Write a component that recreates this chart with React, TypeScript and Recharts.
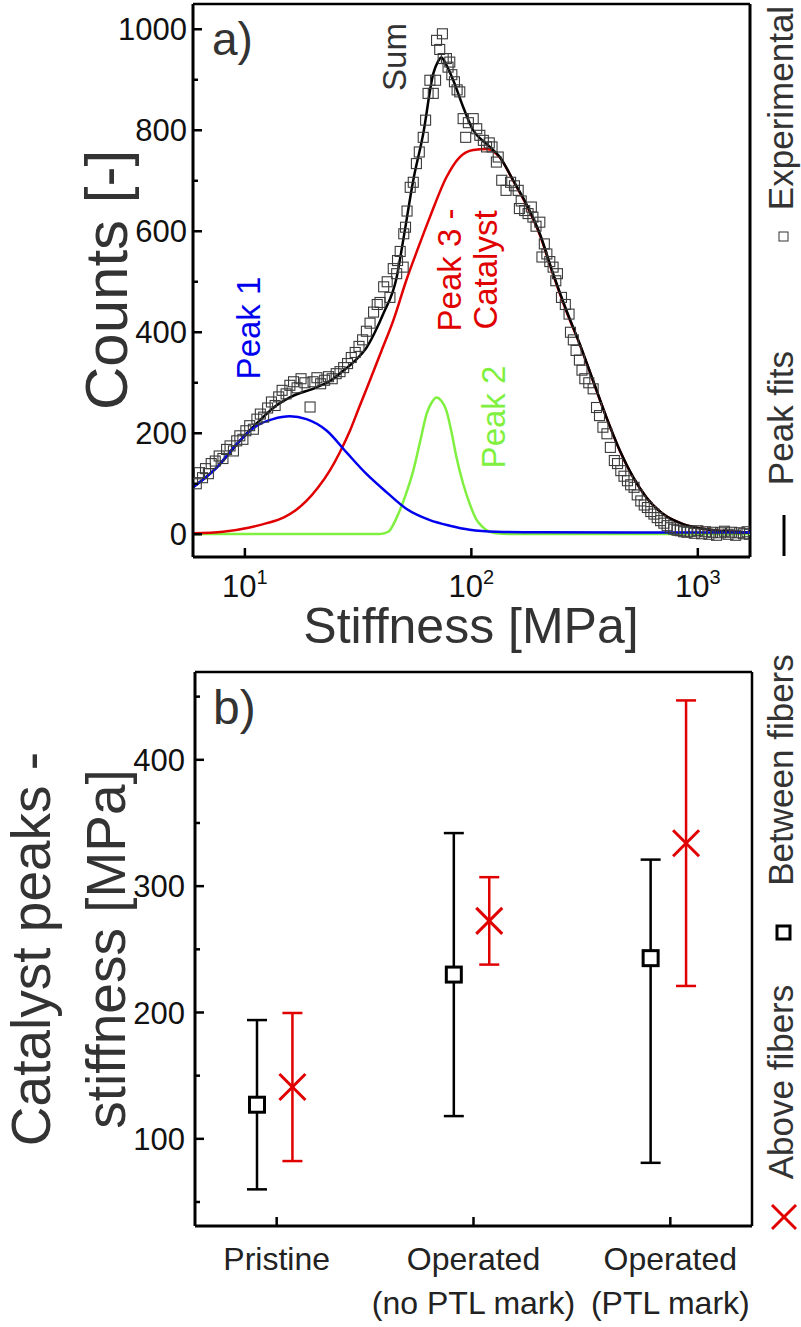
import React from 'react';
import { ComposedChart, Line, Scatter, XAxis, YAxis, ReferenceLine, ErrorBar } from 'recharts';

const FONT = '"Liberation Sans", Arial, Helvetica, sans-serif';

// ---------- Panel a) data ----------
const experimentalPts: [number, number][] = [
  [6.1, 100], [6.3, 122], [6.5, 112], [6.7, 130], [6.9, 120], [7.1, 140], [7.4, 145], [7.7, 155], [8.0, 150],
  [8.3, 168], [8.6, 175], [8.9, 165], [9.2, 185], [9.5, 195], [9.8, 188], [10.1, 205], [10.5, 215], [10.9, 208],
  [11.3, 228], [11.7, 238], [12.1, 232], [12.6, 250], [13.1, 262], [13.6, 255], [14.1, 272], [14.6, 285],
  [15.2, 278], [15.8, 295], [16.4, 302], [17.0, 290], [17.7, 308], [18.4, 300], [19.4, 252], [20.0, 302],
  [20.8, 310], [21.6, 298], [22.5, 305], [23.4, 312], [24.3, 308], [25.3, 318], [26.3, 322], [27.3, 330],
  [28.4, 338], [29.5, 350], [30.7, 360], [31.9, 372], [33.1, 385], [34.4, 402], [35.7, 418], [37.0, 440],
  [38.4, 455], [39.5, 459], [41.0, 490], [42.5, 500], [43.7, 469], [45.2, 526], [46.8, 516], [47.2, 542],
  [48.5, 560], [50.0, 529], [50.3, 595], [51.2, 608], [52.0, 640], [53.7, 687], [55.4, 697], [57.2, 734],
  [58.9, 757], [61.3, 786], [62.8, 820], [64.4, 873], [65.6, 899], [67.9, 873], [69.5, 899], [70.2, 978],
  [72.5, 960], [74.5, 991], [75.1, 942], [77.6, 942], [78.9, 925], [80.3, 935], [82.0, 910], [84.2, 896],
  [86.5, 880], [88.9, 876], [92.0, 823], [94.4, 786], [97.0, 815], [101.9, 823], [105.6, 803], [109, 790],
  [113, 780], [116.7, 767], [120, 775], [123.4, 767], [129, 737], [131.4, 747], [136.2, 701], [142.3, 681],
  [149, 697], [155, 690], [161, 681], [163, 645], [166, 660], [172, 641], [178, 635], [184, 648], [187, 628],
  [193, 610], [200.6, 618], [205, 549], [210, 575], [215.5, 555], [222, 540], [229.6, 529], [236, 502],
  [240, 516], [250, 469], [260, 455], [270, 436], [274, 400], [282, 385], [290, 364], [300, 345], [308, 325],
  [317, 308], [330, 300], [345, 288], [357, 251], [368, 235], [381, 212], [397, 199], [411, 172], [428, 146],
  [442, 140], [457, 126], [472, 115], [489, 106], [505, 98], [523, 93], [540, 78], [560, 66], [580, 58],
  [599, 53], [620, 45], [640, 40], [662, 33], [685, 27], [708, 22], [732, 17], [757, 13], [783, 10], [810, 8],
  [837, 7], [866, 5], [896, 4], [930, 6], [965, 2], [1000, 7], [1040, 1], [1080, 5], [1120, 0], [1160, 4],
  [1210, -2], [1260, 3], [1310, 6], [1360, 0], [1410, 4], [1470, -2], [1530, 3], [1590, 1], [1650, 5], [1690, 0],
];

const sumPts: [number, number][] = [
  [5.9, 93], [7.5, 132], [9.5, 185], [11.6, 225], [13.5, 252], [15.8, 271], [20.7, 291], [24, 305], [27.2, 324],
  [30.5, 343], [34.5, 370], [37.5, 400], [40.8, 436], [46.8, 509], [50, 582], [55.4, 701], [61.3, 793],
  [67.9, 912], [71, 935], [73.8, 944], [77, 932], [83.2, 899], [92, 846], [101.9, 800], [116.7, 773],
  [133.6, 747], [153, 701], [175, 654], [200.6, 595], [229.6, 516], [263, 443], [301, 377], [345, 304],
  [395, 231.5], [453, 165.5], [519, 112.6], [593, 73], [703, 40], [861, 20], [1092, 10], [1400, 5], [1700, 3.6],
];

const peak3Pts: [number, number][] = [
  [5.9, 2], [8, 5], [10.5, 13.5], [12.5, 22], [14.8, 33], [16.7, 47], [18.7, 66], [21, 92], [23.7, 126],
  [26.3, 163], [29.1, 205], [32, 252], [35.6, 304], [40, 362], [45.2, 423], [51.8, 505], [58, 565],
  [65.6, 628], [77.6, 707], [88.9, 747], [101.9, 761], [116.7, 763], [133.6, 746], [153, 700], [175, 652],
  [200.6, 593], [229.6, 514], [263, 441], [301, 376], [345, 303], [395, 231], [453, 165], [519, 112],
  [593, 73], [703, 40], [861, 20], [1092, 10], [1400, 5], [1700, 3],
];

const peak1Pts: [number, number][] = [
  [5.9, 93], [7.5, 132], [9.2, 179], [11.3, 215], [13.3, 228], [15.8, 233.5], [18.7, 228], [23, 205],
  [28.1, 162], [34.5, 119], [42.3, 83], [51.8, 50], [65.6, 28], [80.3, 17], [98.4, 9], [129, 5], [200, 3.8],
  [500, 3.6], [1700, 3.6],
];

const peak2Pts: [number, number][] = [
  [5.9, 0.5], [39.5, 0.5], [43, 5], [46.8, 33], [51, 75], [55.4, 126], [59.5, 185], [63.4, 238], [67, 262],
  [70.2, 271], [73.5, 265], [77.6, 245], [81.5, 205], [86, 152], [92, 100], [98.4, 60], [105, 30],
  [112.7, 13.5], [128, 2], [150, 0.5], [1700, 0.5],
];

const countTicks = [0, 100, 200, 300, 400, 500, 600, 700, 800, 900, 1000];
const stiffLogTicks = [10, 100, 1000];

// ---------- Panel b) data ----------
const categories = ['Pristine', 'Operated\n(no PTL mark)', 'Operated\n(PTL mark)'];
const betweenValues = [127, 230, 243];
const betweenLowErrors = [67, 112, 162];
const betweenHighErrors = [67, 112, 78];
const aboveValues = [141, 272.5, 334];
const aboveErrors = [58.6, 34.6, 113];
const stiffTicks = [50, 100, 150, 200, 250, 300, 350, 400, 450];

const toXY = (pts: [number, number][]) => pts.map(([x, y]) => ({ x, y }));
const expData = toXY(experimentalPts);
const sumData = toXY(sumPts);
const p1Data = toXY(peak1Pts);
const p2Data = toXY(peak2Pts);
const p3Data = toXY(peak3Pts);
const betweenData = betweenValues.map((y, i) => ({
  x: i + 1 - 0.1,
  y,
  err: [betweenLowErrors[i], betweenHighErrors[i]],
}));
const aboveData = aboveValues.map((y, i) => ({ x: i + 1 + 0.08, y, err: aboveErrors[i] }));

const RED = '#e00000';
const BLUE = '#0000ee';
const GREEN = '#80f040';

const OpenSquare = (p: any) => (
  <rect x={p.cx - 5} y={p.cy - 5} width={10} height={10} fill="none" stroke="#3a3a3a" strokeWidth={1.1} />
);
const BoldSquare = (p: any) => (
  <rect x={p.cx - 7.5} y={p.cy - 7.5} width={15} height={15} fill="#fff" stroke="#000" strokeWidth={3} />
);
const RedCross = (p: any) => (
  <g stroke={RED} strokeWidth={3}>
    <line x1={p.cx - 13} y1={p.cy - 13} x2={p.cx + 13} y2={p.cy + 13} />
    <line x1={p.cx - 13} y1={p.cy + 13} x2={p.cx + 13} y2={p.cy - 13} />
  </g>
);

const CountTick = (p: any) => {
  const v = p.payload.value;
  const major = v % 200 === 0;
  const ax = p.x + 6;
  return (
    <g>
      <line x1={ax} x2={ax + (major ? 9 : 5)} y1={p.y} y2={p.y} stroke="#000" strokeWidth={2.5} />
      {major && (
        <text x={p.x} y={p.y} dy="0.36em" textAnchor="end" fontSize={31} fontFamily={FONT} fill="#111">
          {v}
        </text>
      )}
    </g>
  );
};

const LogTick = (p: any) => {
  const v = p.payload.value;
  const e = Math.round(Math.log10(v));
  return (
    <g>
      <line x1={p.x} x2={p.x} y1={p.y} y2={p.y - 9} stroke="#000" strokeWidth={2.5} />
      <text x={p.x} y={p.y + 40} textAnchor="middle" fontSize={31} fontFamily={FONT} fill="#111">
        <tspan>10</tspan>
        <tspan dy={-13} fontSize={20}>{e}</tspan>
      </text>
    </g>
  );
};

const StiffTick = (p: any) => {
  const v = p.payload.value;
  const major = v % 100 === 0;
  const ax = p.x + 10;
  return (
    <g>
      <line x1={ax} x2={ax + (major ? 9 : 5)} y1={p.y} y2={p.y} stroke="#000" strokeWidth={2.5} />
      {major && (
        <text x={p.x} y={p.y} dy="0.36em" textAnchor="end" fontSize={31} fontFamily={FONT} fill="#111">
          {v}
        </text>
      )}
    </g>
  );
};

const CatTick = (p: any) => {
  const idx = Math.round(p.payload.value) - 1;
  const lines = (categories[idx] || '').split('\n');
  return (
    <g>
      <line x1={p.x} x2={p.x} y1={p.y} y2={p.y - 9} stroke="#000" strokeWidth={2.5} />
      {lines.map((t, i) => (
        <text key={i} x={p.x} y={p.y + 44 + i * 44} textAnchor="middle" fontSize={32} fontFamily={FONT} fill="#222">
          {t}
        </text>
      ))}
    </g>
  );
};

const VText = ({ x, y, size, fill, children }: any) => (
  <text x={x} y={y} transform={`rotate(-90, ${x}, ${y})`} textAnchor="middle" fontSize={size} fontFamily={FONT} fill={fill}>
    {children}
  </text>
);

export default function App() {
  return (
    <div style={{ position: 'absolute', left: 0, top: 0, width: 801, height: 1327, background: '#fff' }}>
      <div style={{ position: 'absolute', left: 0, top: 0 }}>
        <ComposedChart width={801} height={640} margin={{ top: 4, right: 51, bottom: 0, left: 0 }}>
          <XAxis
            type="number"
            dataKey="x"
            scale="log"
            domain={[5.9, 1700]}
            allowDataOverflow
            ticks={stiffLogTicks}
            interval={0}
            height={83}
            axisLine={{ stroke: '#000', strokeWidth: 3 }}
            tickLine={false}
            tickSize={0}
            tickMargin={0}
            tick={<LogTick />}
          />
          <YAxis
            type="number"
            domain={[-45, 1050]}
            allowDataOverflow
            ticks={countTicks}
            interval={0}
            width={193}
            axisLine={{ stroke: '#000', strokeWidth: 3 }}
            tickLine={false}
            tickSize={0}
            tickMargin={6}
            tick={<CountTick />}
          />
          <ReferenceLine y={1050} stroke="#000" strokeWidth={2.5} />
          <ReferenceLine x={1700} stroke="#000" strokeWidth={3} />
          <Scatter data={expData} dataKey="y" shape={<OpenSquare />} isAnimationActive={false} />
          <Line data={p2Data} dataKey="y" type="monotone" stroke={GREEN} strokeWidth={2.5} dot={false} isAnimationActive={false} />
          <Line data={p3Data} dataKey="y" type="monotone" stroke={RED} strokeWidth={2.5} dot={false} isAnimationActive={false} />
          <Line data={sumData} dataKey="y" type="monotone" stroke="#000" strokeWidth={2.5} dot={false} isAnimationActive={false} />
          <Line data={p1Data} dataKey="y" type="monotone" stroke={BLUE} strokeWidth={2.5} dot={false} isAnimationActive={false} />
        </ComposedChart>
      </div>
      <div style={{ position: 'absolute', left: 0, top: 650 }}>
        <ComposedChart width={801} height={677} margin={{ top: 22, right: 49, bottom: 0, left: 0 }}>
          <XAxis
            type="number"
            dataKey="x"
            domain={[0.585, 3.415]}
            allowDataOverflow
            ticks={[1, 2, 3]}
            interval={0}
            height={101}
            axisLine={{ stroke: '#000', strokeWidth: 3 }}
            tickLine={false}
            tickSize={0}
            tickMargin={0}
            tick={<CatTick />}
          />
          <YAxis
            type="number"
            domain={[31, 469.5]}
            allowDataOverflow
            ticks={stiffTicks}
            interval={0}
            width={195}
            axisLine={{ stroke: '#000', strokeWidth: 3 }}
            tickLine={false}
            tickSize={0}
            tickMargin={10}
            tick={<StiffTick />}
          />
          <ReferenceLine y={469.5} stroke="#000" strokeWidth={2.5} />
          <ReferenceLine x={3.415} stroke="#000" strokeWidth={2.5} />
          <Scatter data={betweenData} dataKey="y" shape={<BoldSquare />} isAnimationActive={false}>
            <ErrorBar dataKey="err" direction="y" width={10} stroke="#000" strokeWidth={2.5} />
          </Scatter>
          <Scatter data={aboveData} dataKey="y" shape={<RedCross />} isAnimationActive={false}>
            <ErrorBar dataKey="err" direction="y" width={10} stroke={RED} strokeWidth={2.5} />
          </Scatter>
        </ComposedChart>
      </div>
      <svg width={801} height={1327} style={{ position: 'absolute', left: 0, top: 0, pointerEvents: 'none' }}>
        {/* panel a annotations */}
        <text x={212} y={55} fontSize={46} fontFamily={FONT} fill="#333">a)</text>
        <VText x={406} y={57} size={33} fill="#333">Sum</VText>
        <VText x={260} y={328} size={33} fill={BLUE}>Peak 1</VText>
        <VText x={461} y={270} size={33} fill={RED}>Peak 3 -</VText>
        <VText x={497} y={270} size={33} fill={RED}>Catalyst</VText>
        <VText x={505} y={417} size={33} fill={GREEN}>Peak 2</VText>
        <VText x={127} y={280} size={60} fill="#333">Counts [-]</VText>
        <text x={471} y={643} textAnchor="middle" fontSize={50} fontFamily={FONT} fill="#333">Stiffness [MPa]</text>
        <VText x={793} y={108} size={35} fill="#333">Experimental</VText>
        <rect x={779} y={232} width={9} height={9} fill="none" stroke="#333" strokeWidth={1} />
        <VText x={793} y={418} size={35} fill="#333">Peak fits</VText>
        <line x1={784} y1={515} x2={784} y2={556} stroke="#000" strokeWidth={3} />
        {/* panel b annotations */}
        <text x={213} y={724} fontSize={48} fontFamily={FONT} fill="#333">b)</text>
        <VText x={50} y={949} size={55} fill="#333">Catalyst peaks -</VText>
        <VText x={125} y={949} size={55} fill="#333">stiffness [MPa]</VText>
        <VText x={793} y={770} size={35} fill="#333">Between fibers</VText>
        <rect x={777} y={926} width={13} height={13} fill="#fff" stroke="#000" strokeWidth={3} />
        <VText x={793} y={1082} size={35} fill="#333">Above fibers</VText>
        <g stroke={RED} strokeWidth={3}>
          <line x1={772} y1={1205} x2={796} y2={1229} />
          <line x1={772} y1={1229} x2={796} y2={1205} />
        </g>
      </svg>
    </div>
  );
}
